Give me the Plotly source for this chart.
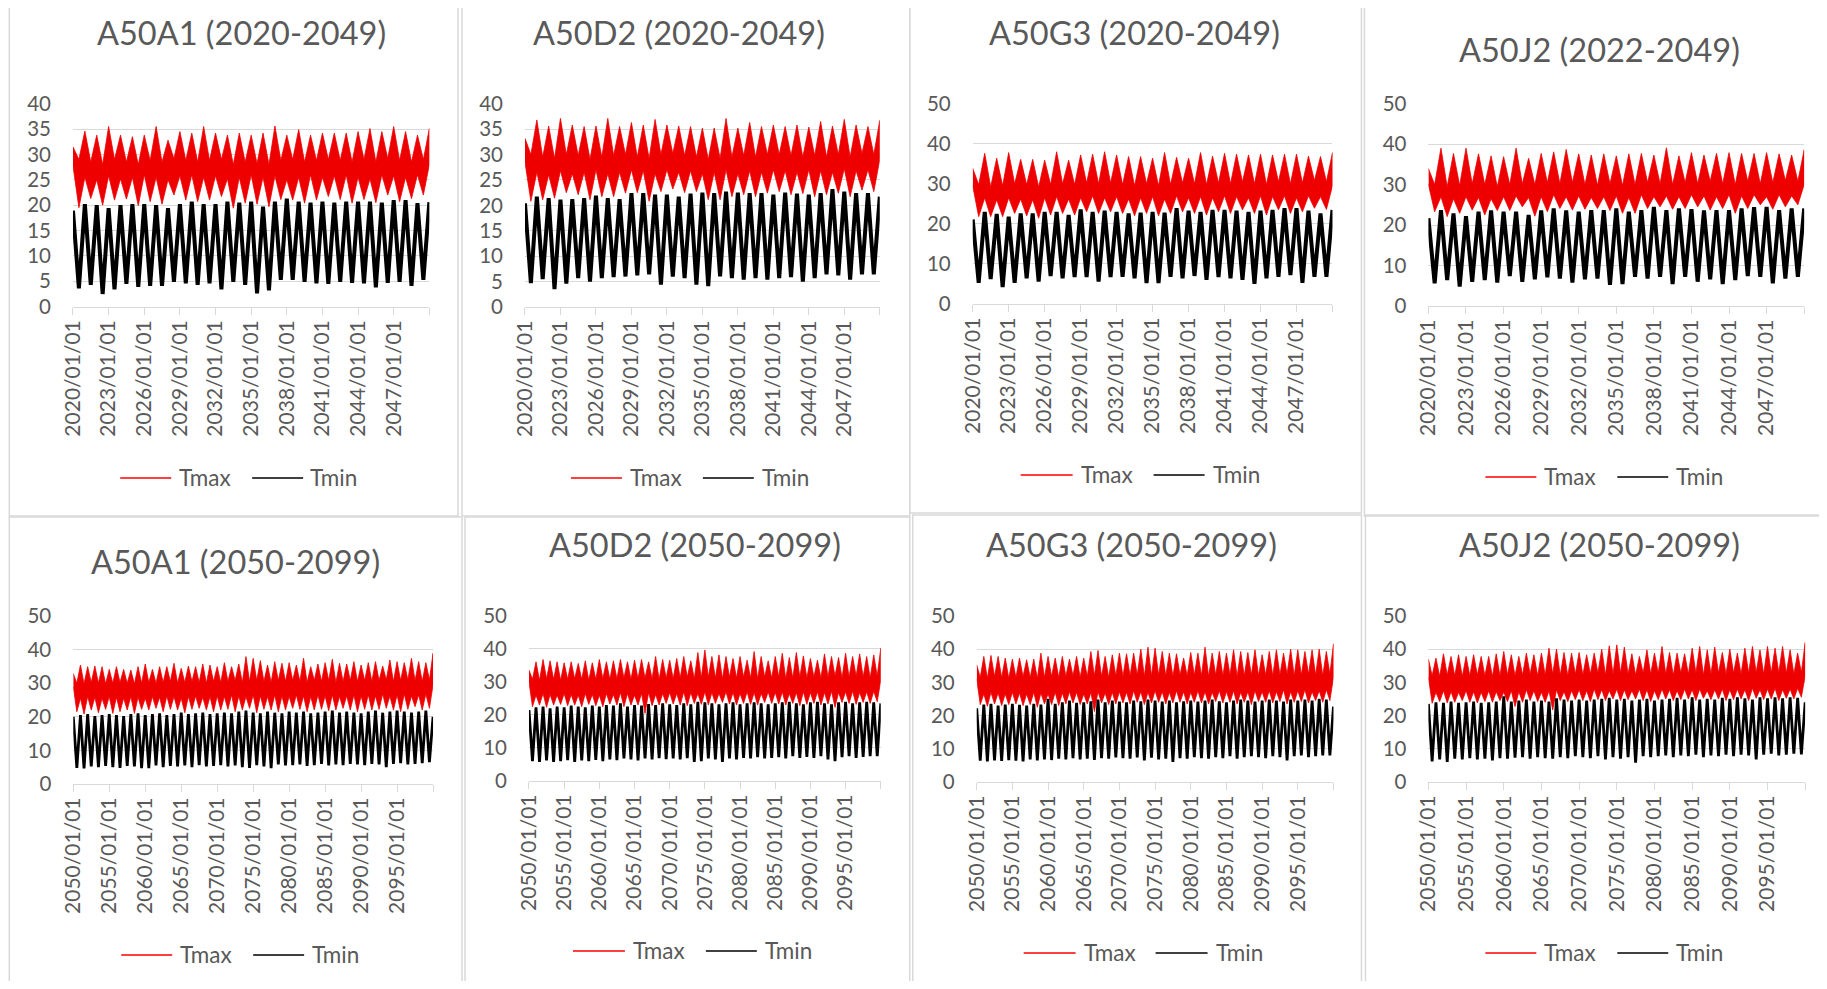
import plotly.graph_objects as go

PAGE_W, PAGE_H = 1827, 989
OFF = 8  # default body margin of the page
W, H = PAGE_W - 2 * OFF, PAGE_H - 2 * OFF
# measured mapping page -> photographed picture (picture = T + S * page)
SX, TX = 0.9929, 13.75
SY, TY = 0.9754, 13.2
FONT = "Lato"
TXT = "#595959"
GRID = "#D9D9D9"
RED = "#EE0000"

# ---------------- categories / ticks ----------------
top_years = list(range(2020, 2050))
bot_years = list(range(2050, 2100))
top_ticks = list(range(2020, 2048, 3))
bot_ticks = list(range(2050, 2100, 5))
titles = ["A50A1 (2020-2049)", "A50D2 (2020-2049)", "A50G3 (2020-2049)", "A50J2 (2022-2049)",
          "A50A1 (2050-2099)", "A50D2 (2050-2099)", "A50G3 (2050-2099)", "A50J2 (2050-2099)"]
series_names = ["Tmax", "Tmin"]

# ---------------- data ----------------
# *_hi : summer (January) top value, one per year + final value
# *_sb : summer (January) lower edge of the daily band
# *_wt : winter (July) upper edge of the daily band
# *_lo : winter (July) bottom value
p1_tmax_hi = [31.5, 34.6, 33.8, 35.5, 33.8, 33.5, 33.8, 35.5, 32.8, 34.5, 34.2, 35.5, 34.2, 33.8, 34.2, 33.8,
              34.2, 35.6, 33.8, 34.9, 33.8, 34.2, 34.2, 34.2, 34.5, 35.1, 34.5, 35.5, 34.5, 33.8, 35.1]
p1_tmax_sb = [27.8, 25.5, 25.0, 25.8, 25.2, 25.5, 26.0, 25.5, 25.0, 25.8, 26.0, 25.5, 25.8, 25.2, 25.5, 26.0,
              25.5, 25.8, 25.0, 25.5, 26.0, 25.5, 25.8, 26.0, 25.5, 25.2, 26.0, 25.8, 25.5, 26.0, 28.0]
p1_tmax_wt = [29.0, 28.5, 28.0, 29.0, 28.5, 28.0, 28.8, 28.5, 29.2, 28.8, 28.5, 28.8, 29.0, 28.0, 28.5, 28.2,
              28.0, 28.8, 29.0, 28.5, 28.8, 29.0, 28.8, 28.5, 29.0, 28.5, 29.2, 28.8, 28.5, 29.0]
p1_tmax_lo = [19.5, 21.3, 20.0, 21.0, 21.2, 19.9, 20.7, 20.2, 22.0, 21.0, 20.7, 21.0, 21.7, 19.4, 20.4, 20.2,
              19.7, 21.1, 21.0, 20.4, 21.0, 21.7, 21.1, 20.4, 21.1, 20.5, 22.0, 20.7, 21.3, 22.0]
p1_tmin_hi = [18.9, 20.2, 20.0, 19.4, 20.0, 20.2, 20.2, 20.0, 19.4, 20.2, 20.7, 20.2, 20.2, 20.7, 20.5, 20.7,
              19.7, 20.7, 21.3, 20.7, 20.5, 20.7, 20.5, 20.7, 20.7, 20.7, 20.5, 21.0, 21.0, 20.4, 20.6]
p1_tmin_lo = [3.6, 4.3, 2.5, 3.4, 4.5, 3.9, 4.1, 4.1, 4.9, 4.6, 4.3, 4.6, 3.4, 4.9, 4.3, 2.6, 3.2, 5.3, 5.3,
              4.9, 4.6, 4.5, 4.9, 4.7, 4.6, 3.8, 4.7, 4.9, 4.1, 5.3]

p2_tmax_hi = [33.2, 36.8, 35.6, 37.1, 35.8, 35.5, 35.6, 37.1, 35.5, 36.3, 35.8, 36.9, 35.8, 35.6, 35.5, 35.2,
              35.2, 37.1, 35.2, 36.3, 35.5, 35.8, 35.5, 35.8, 35.4, 36.5, 35.6, 36.9, 35.8, 35.5, 36.7]
p2_tmax_sb = [28.5, 26.5, 26.0, 26.8, 26.2, 26.5, 27.0, 26.2, 26.5, 27.0, 26.8, 26.2, 27.0, 26.5, 26.8, 26.2,
              26.5, 27.0, 26.2, 26.8, 26.5, 27.0, 26.8, 26.5, 27.0, 26.8, 26.5, 27.2, 26.8, 27.0, 29.0]
p2_tmax_wt = [30.0, 29.5, 29.2, 30.0, 29.8, 29.0, 29.5, 29.8, 30.0, 29.5, 29.2, 30.0, 30.2, 29.8, 29.5, 29.0,
              29.2, 29.5, 29.8, 29.5, 30.0, 30.0, 29.8, 29.5, 29.8, 29.5, 30.0, 29.5, 30.2, 30.0]
p2_tmax_lo = [20.8, 21.1, 21.4, 22.5, 22.1, 21.1, 21.7, 21.7, 22.4, 22.5, 20.8, 22.7, 23.2, 22.5, 22.7, 21.1,
              21.1, 21.7, 22.1, 21.7, 22.4, 22.7, 22.1, 22.3, 21.7, 22.1, 22.4, 21.7, 23.0, 22.7]
p2_tmin_hi = [20.4, 21.7, 21.4, 21.1, 21.2, 21.4, 21.9, 21.4, 21.2, 22.4, 22.4, 22.1, 22.1, 21.7, 22.3, 22.5,
              22.4, 22.7, 22.5, 22.4, 22.4, 22.1, 22.5, 22.3, 22.1, 22.4, 23.2, 22.7, 22.4, 22.4, 21.7]
p2_tmin_lo = [4.7, 5.5, 3.5, 4.6, 5.7, 5.0, 5.7, 5.9, 6.0, 6.2, 6.4, 4.4, 6.0, 5.7, 4.4, 4.1, 6.0, 5.7, 5.4,
              5.7, 5.4, 5.7, 5.9, 5.0, 5.7, 6.4, 6.2, 5.4, 6.4, 6.4]

p3_tmax_hi = [33.9, 37.6, 36.4, 37.8, 36.1, 36.1, 35.9, 38.0, 35.9, 37.2, 37.4, 38.0, 37.2, 36.8, 36.8, 36.4,
              37.8, 36.6, 36.4, 37.8, 36.9, 37.6, 37.4, 37.2, 37.4, 37.2, 37.4, 37.4, 36.9, 36.8, 37.8]
p3_tmax_sb = [29.5, 26.5, 26.0, 26.5, 26.2, 26.0, 26.5, 26.8, 26.2, 26.5, 27.0, 26.5, 26.8, 26.2, 26.5, 26.8,
              26.2, 27.0, 26.5, 26.8, 26.5, 27.0, 26.8, 26.5, 27.0, 26.8, 27.0, 26.5, 27.0, 26.8, 29.5]
p3_tmax_wt = [29.8, 29.2, 29.5, 30.0, 29.8, 29.2, 29.8, 30.0, 29.8, 30.2, 30.0, 30.2, 29.8, 29.5, 30.0, 29.5,
              29.8, 30.2, 30.0, 29.8, 30.2, 30.0, 30.5, 30.0, 29.8, 30.5, 30.0, 30.2, 30.8, 30.5]
p3_tmax_lo = [21.8, 21.8, 21.8, 22.6, 22.0, 21.4, 22.2, 22.6, 22.2, 23.0, 22.6, 23.0, 22.6, 22.0, 22.6, 22.0,
              22.6, 23.0, 22.6, 22.2, 23.0, 22.6, 23.5, 22.6, 22.2, 23.5, 22.6, 23.0, 23.9, 23.6]
p3_tmin_hi = [21.1, 23.0, 22.5, 21.8, 22.6, 22.6, 23.0, 23.0, 22.2, 23.6, 23.0, 23.3, 23.0, 22.6, 22.8, 23.0,
              22.8, 23.9, 23.3, 23.0, 23.5, 23.5, 23.3, 23.0, 23.3, 23.5, 23.9, 23.9, 23.3, 22.6, 23.5]
p3_tmin_lo = [5.3, 6.2, 4.2, 5.3, 6.4, 5.6, 7.0, 6.4, 6.7, 6.7, 5.6, 6.7, 6.8, 6.4, 5.2, 5.2, 6.8, 6.4, 7.0,
              6.0, 6.7, 6.4, 6.0, 5.0, 6.4, 6.8, 7.2, 5.3, 6.8, 6.8]

p4_tmax_hi = [34.0, 39.0, 37.7, 39.0, 37.6, 37.1, 36.9, 39.0, 36.5, 37.7, 38.1, 38.7, 37.6, 37.3, 37.6, 37.1,
              37.6, 37.7, 37.3, 39.1, 37.1, 37.9, 37.3, 37.7, 37.9, 37.7, 37.7, 37.9, 37.6, 37.3, 38.6]
p4_tmax_sb = [30.0, 27.0, 26.5, 27.0, 26.8, 26.5, 27.0, 27.2, 26.8, 27.0, 27.5, 27.0, 27.2, 26.8, 27.0, 27.2,
              26.8, 27.5, 27.0, 27.2, 27.0, 27.5, 27.2, 27.0, 27.5, 27.2, 27.5, 27.0, 27.5, 27.2, 30.0]
p4_tmax_wt = [30.0, 29.5, 29.8, 30.2, 30.0, 29.5, 30.0, 30.2, 30.0, 30.5, 30.2, 30.5, 30.0, 29.8, 30.2, 29.8,
              30.0, 30.5, 30.2, 30.0, 30.5, 30.2, 30.8, 30.2, 30.0, 30.8, 30.2, 30.5, 31.0, 30.8]
p4_tmax_lo = [23.3, 22.1, 22.9, 23.7, 22.5, 23.6, 23.6, 24.5, 22.2, 23.3, 24.1, 23.7, 23.9, 24.1, 23.6, 22.9,
              22.9, 24.1, 24.5, 23.9, 24.1, 24.5, 23.7, 24.1, 22.9, 24.1, 25.0, 23.9, 24.5, 25.0]
p4_tmin_hi = [21.7, 23.7, 22.9, 22.2, 23.3, 23.6, 23.3, 23.3, 22.5, 23.6, 24.1, 23.6, 23.3, 23.7, 23.7, 24.1,
              23.3, 23.7, 24.5, 23.7, 24.1, 23.9, 23.6, 23.7, 23.7, 24.1, 24.4, 24.5, 23.7, 24.1, 24.1]
p4_tmin_lo = [5.6, 6.4, 4.8, 6.0, 6.4, 5.8, 7.4, 6.0, 6.6, 7.1, 6.8, 5.8, 6.6, 6.8, 5.2, 5.4, 7.2, 6.8, 7.2,
              5.4, 7.2, 6.0, 6.6, 5.4, 6.4, 7.4, 7.2, 5.6, 6.8, 7.2]

p5_tmax_hi = [32.9,
              35.4, 34.9, 35.1, 34.9, 34.1, 34.9, 34.1, 33.9, 34.9, 35.7,
              34.1, 34.9, 34.9, 35.9, 34.4, 35.1, 34.9, 35.7, 35.4, 34.9,
              36.1, 34.9, 35.7, 37.9, 37.4, 36.7, 35.4, 36.4, 35.9, 36.1,
              35.4, 37.4, 34.9, 35.7, 36.1, 37.1, 35.9, 35.7, 36.4, 35.4,
              36.1, 36.4, 35.1, 36.9, 36.4, 36.1, 37.4, 36.4, 36.1, 38.9]
p5_tmax_sb = [29.0,
              25.5, 26.0, 25.8, 25.5, 26.0, 25.8, 25.5, 26.0, 25.8, 25.5,
              26.0, 25.8, 26.2, 26.0, 25.5, 26.0, 26.2, 25.8, 26.0, 26.2,
              26.0, 26.5, 26.2, 26.0, 26.5, 26.2, 26.0, 26.5, 26.2, 26.0,
              26.5, 26.2, 26.0, 26.5, 26.2, 26.5, 26.0, 26.2, 26.5, 26.2,
              26.5, 26.2, 26.8, 26.2, 26.5, 26.8, 26.2, 26.5, 26.8, 29.5]
p5_tmax_wt = [30.0, 29.8, 30.2, 30.0, 29.8, 30.0, 30.2, 30.0, 29.8, 30.0,
              30.2, 30.0, 30.2, 30.5, 30.0, 30.2, 30.5, 30.2, 30.0, 30.5,
              30.2, 30.5, 30.8, 30.2, 30.5, 30.8, 30.5, 30.2, 30.8, 30.5,
              30.8, 30.5, 30.2, 30.8, 30.5, 30.8, 30.2, 30.5, 30.8, 30.5,
              30.8, 30.5, 30.8, 31.0, 30.5, 30.8, 31.0, 30.8, 30.5, 31.0]
p5_tmax_lo = [21.5, 20.8, 22.0, 21.2, 22.2, 21.0, 21.5, 22.0, 21.0, 22.2,
              22.0, 22.5, 21.5, 22.2, 22.0, 21.2, 22.2, 22.5, 22.0, 21.5,
              22.0, 22.2, 21.5, 22.0, 22.5, 21.2, 22.2, 22.0, 21.5, 22.0,
              22.5, 22.2, 21.5, 22.0, 22.2, 21.8, 22.0, 22.5, 22.0, 21.5,
              22.2, 22.0, 22.2, 22.5, 22.0, 21.5, 22.2, 23.0, 22.0, 22.5]
p5_tmin_hi = [20.0,
              20.5, 20.8, 20.2, 20.5, 20.8, 20.5, 20.2, 20.8, 21.0, 20.5,
              20.8, 21.0, 20.5, 20.8, 21.2, 20.8, 21.0, 21.2, 20.8, 21.0,
              21.2, 21.0, 21.5, 21.8, 21.2, 21.0, 21.5, 21.2, 21.0, 21.5,
              21.2, 21.5, 21.0, 21.2, 21.5, 21.8, 21.2, 21.5, 21.2, 21.0,
              21.5, 21.8, 21.2, 21.5, 21.8, 21.5, 21.2, 21.5, 21.8, 20.0]
p5_tmin_lo = [4.8, 4.6, 5.2, 5.0, 5.4, 5.0, 4.8, 5.4, 5.2, 4.7,
              4.7, 5.5, 5.0, 5.4, 5.2, 5.5, 5.0, 5.6, 5.2, 5.4,
              5.6, 5.2, 5.5, 5.0, 4.8, 5.6, 5.2, 4.7, 5.8, 5.5,
              5.6, 5.8, 5.4, 5.6, 6.0, 5.5, 5.8, 5.6, 6.0, 5.8,
              5.6, 6.0, 5.8, 5.0, 6.0, 6.2, 5.8, 6.0, 6.2, 6.5]

p6_tmax_hi = [33.6,
              36.1, 36.8, 36.4, 36.1, 35.8, 36.1, 35.6, 36.4, 35.8, 36.8,
              36.1, 36.4, 36.8, 36.1, 36.6, 36.8, 36.1, 37.7, 36.8, 36.6,
              37.1, 37.7, 36.4, 38.9, 39.7, 37.7, 38.2, 37.7, 37.1, 37.7,
              36.6, 39.2, 37.7, 36.4, 37.7, 38.7, 37.4, 38.9, 37.9, 37.1,
              36.6, 38.5, 37.7, 37.4, 38.7, 37.7, 38.5, 37.7, 38.2, 40.2]
p6_tmax_sb = [30.0,
              26.0, 26.5, 26.2, 26.0, 26.5, 26.2, 26.0, 26.5, 26.2, 26.0,
              26.5, 26.2, 26.8, 26.5, 26.0, 26.5, 26.8, 26.2, 26.5, 26.8,
              26.5, 27.0, 26.8, 26.5, 27.0, 26.8, 26.5, 27.0, 26.8, 26.5,
              27.0, 26.8, 26.5, 27.0, 26.8, 27.0, 26.5, 26.8, 27.0, 26.8,
              27.0, 26.8, 27.2, 26.8, 27.0, 27.2, 26.8, 27.0, 27.2, 30.5]
p6_tmax_wt = [30.8, 30.5, 31.0, 30.8, 30.5, 30.8, 31.0, 30.8, 30.5, 30.8,
              31.0, 30.8, 31.0, 31.2, 30.8, 31.0, 31.2, 31.0, 30.8, 31.2,
              31.0, 31.2, 31.5, 31.0, 31.2, 31.5, 31.2, 31.0, 31.5, 31.2,
              31.5, 31.2, 31.0, 31.5, 31.2, 31.5, 31.0, 31.2, 31.5, 31.2,
              31.5, 31.2, 31.5, 31.8, 31.2, 31.5, 31.8, 31.5, 31.2, 31.8]
p6_tmax_lo = [22.5, 23.0, 22.3, 23.0, 23.2, 22.8, 23.0, 22.5, 23.2, 22.8,
              22.5, 23.3, 23.0, 22.5, 23.0, 23.0, 20.5, 22.8, 23.0, 23.5,
              23.3, 23.0, 22.8, 23.5, 23.2, 23.0, 23.5, 23.8, 23.3, 23.0,
              23.5, 23.2, 23.0, 23.8, 23.5, 23.3, 23.0, 23.5, 22.8, 23.2,
              23.5, 23.0, 23.3, 22.3, 23.8, 23.5, 23.2, 23.8, 23.5, 24.0]
p6_tmin_hi = [21.5,
              22.3, 22.5, 22.0, 22.5, 22.3, 22.8, 22.5, 22.3, 22.8, 22.5,
              23.0, 22.8, 23.5, 22.5, 23.0, 22.8, 23.3, 23.0, 23.5, 23.2,
              23.0, 23.5, 23.2, 24.0, 23.8, 23.5, 23.2, 23.5, 23.8, 23.2,
              23.5, 23.8, 23.5, 23.2, 23.5, 23.8, 24.0, 23.5, 23.2, 23.8,
              24.0, 23.5, 23.2, 23.8, 24.0, 23.5, 23.8, 24.0, 23.8, 23.5]
p6_tmin_lo = [6.0, 5.8, 6.2, 5.8, 6.0, 6.3, 5.8, 6.2, 6.0, 6.4,
              6.0, 6.5, 6.3, 6.8, 6.5, 6.2, 6.8, 6.5, 6.9, 6.6,
              6.8, 6.5, 6.9, 5.8, 6.0, 6.8, 6.5, 5.8, 6.8, 6.5,
              7.0, 6.8, 7.2, 6.8, 7.0, 7.2, 6.8, 7.5, 7.0, 7.3,
              7.0, 7.5, 6.5, 6.0, 7.2, 7.5, 7.0, 7.3, 7.5, 7.5]

p7_tmax_hi = [35.3,
              37.8, 38.1, 37.8, 37.3, 37.0, 37.3, 36.8, 37.0, 38.8, 37.8,
              37.3, 37.8, 37.0, 37.8, 37.3, 39.3, 39.6, 37.8, 38.3, 38.8,
              38.6, 38.8, 40.0, 40.6, 40.3, 39.3, 38.8, 38.6, 37.3, 39.0,
              38.8, 40.6, 38.8, 39.3, 38.8, 39.8, 39.3, 39.0, 39.8, 38.3,
              39.3, 39.8, 38.8, 40.0, 39.8, 39.3, 39.8, 40.0, 39.3, 41.6]
p7_tmax_sb = [31.0,
              26.5, 27.0, 26.8, 26.5, 27.0, 26.8, 26.5, 27.0, 26.8, 26.5,
              27.0, 26.8, 27.2, 27.0, 26.5, 27.0, 27.2, 26.8, 27.0, 27.2,
              27.0, 27.5, 27.2, 27.0, 27.5, 27.2, 27.0, 27.5, 27.2, 27.0,
              27.5, 27.2, 27.0, 27.5, 27.2, 27.5, 27.0, 27.2, 27.5, 27.2,
              27.5, 27.2, 27.8, 27.2, 27.5, 27.8, 27.2, 27.5, 27.8, 31.5]
p7_tmax_wt = [31.5, 31.2, 31.8, 31.5, 31.2, 31.5, 31.8, 31.5, 31.2, 31.5,
              31.8, 31.5, 31.8, 32.0, 31.5, 31.8, 32.0, 31.8, 31.5, 32.0,
              31.8, 32.0, 32.2, 31.8, 32.0, 32.2, 32.0, 31.8, 32.2, 32.0,
              32.2, 32.0, 31.8, 32.2, 32.0, 32.2, 31.8, 32.0, 32.2, 32.0,
              32.2, 32.0, 32.2, 32.5, 32.0, 32.2, 32.5, 32.2, 32.0, 32.5]
p7_tmax_lo = [23.3, 22.8, 23.5, 23.0, 23.3, 23.5, 23.0, 23.3, 22.5, 23.5,
              23.3, 23.0, 23.5, 23.8, 23.3, 23.5, 21.2, 23.8, 23.3, 23.5,
              23.8, 23.5, 24.0, 23.3, 23.8, 24.0, 23.5, 23.8, 24.0, 23.5,
              24.0, 23.8, 23.5, 24.2, 23.8, 24.0, 23.5, 24.0, 23.3, 24.2,
              24.0, 23.8, 24.2, 23.5, 24.0, 24.2, 23.8, 24.5, 24.0, 24.5]
p7_tmin_hi = [22.2,
              23.3, 23.5, 23.0, 23.3, 23.5, 23.2, 23.0, 23.5, 23.3, 25.0,
              23.5, 24.0, 24.5, 23.8, 24.0, 24.3, 24.8, 24.0, 24.5, 24.2,
              24.0, 24.5, 24.3, 24.8, 24.5, 24.2, 24.5, 24.0, 24.3, 24.5,
              24.2, 24.5, 24.8, 24.3, 24.0, 24.5, 24.8, 24.5, 24.2, 24.5,
              24.8, 24.5, 24.2, 24.8, 24.5, 24.8, 24.5, 25.0, 24.8, 22.7]
p7_tmin_lo = [6.4, 6.2, 6.5, 6.3, 6.6, 6.4, 6.2, 6.8, 6.5, 6.8,
              6.6, 7.0, 6.8, 7.2, 6.8, 7.0, 6.6, 7.2, 7.0, 7.4,
              7.2, 7.0, 7.4, 6.5, 7.3, 6.8, 7.0, 6.0, 7.2, 7.0,
              7.5, 7.2, 7.0, 7.5, 7.2, 7.8, 7.0, 7.5, 7.8, 7.5,
              7.2, 7.8, 7.5, 6.5, 7.8, 8.0, 7.5, 7.8, 8.0, 8.0]

p8_tmax_hi = [37.0,
              37.3, 38.6, 37.8, 38.3, 37.8, 38.3, 37.8, 37.8, 38.6, 39.3,
              38.3, 37.8, 38.8, 38.3, 38.8, 40.3, 40.0, 39.0, 38.8, 39.0,
              38.3, 38.8, 40.0, 41.0, 41.3, 40.6, 38.6, 37.8, 39.8, 38.8,
              40.8, 39.0, 38.8, 38.6, 40.3, 40.8, 39.8, 40.6, 39.0, 40.0,
              38.8, 40.3, 40.8, 39.8, 40.8, 40.3, 40.8, 39.8, 38.8, 42.0]
p8_tmax_sb = [31.5,
              27.0, 27.5, 27.2, 27.0, 27.5, 27.2, 27.0, 27.5, 27.2, 27.0,
              27.5, 27.2, 27.8, 27.5, 27.0, 27.5, 27.8, 27.2, 27.5, 27.8,
              27.5, 28.0, 27.8, 27.5, 28.0, 27.8, 27.5, 28.0, 27.8, 27.5,
              28.0, 27.8, 27.5, 28.0, 27.8, 28.0, 27.5, 27.8, 28.0, 27.8,
              28.0, 27.8, 28.2, 27.8, 28.0, 28.2, 27.8, 28.0, 28.2, 32.0]
p8_tmax_wt = [32.0, 31.8, 32.2, 32.0, 31.8, 32.0, 32.2, 32.0, 31.8, 32.0,
              32.2, 32.0, 32.2, 32.5, 32.0, 32.2, 32.5, 32.2, 32.0, 32.5,
              32.2, 32.5, 32.8, 32.2, 32.5, 32.8, 32.5, 32.2, 32.8, 32.5,
              32.8, 32.5, 32.2, 32.8, 32.5, 32.8, 32.2, 32.5, 32.8, 32.5,
              32.8, 32.5, 32.8, 33.0, 32.5, 32.8, 33.0, 32.8, 32.5, 33.0]
p8_tmax_lo = [23.7, 24.2, 23.8, 24.0, 24.5, 24.0, 23.8, 24.2, 24.0, 24.5,
              24.2, 22.7, 24.0, 24.5, 24.2, 24.0, 21.7, 24.5, 24.2, 24.8,
              24.5, 24.2, 24.8, 24.5, 25.0, 24.5, 24.8, 25.0, 24.5, 24.2,
              24.8, 25.0, 24.5, 24.8, 25.0, 24.5, 25.2, 24.8, 25.0, 24.5,
              24.8, 25.0, 24.5, 25.2, 24.8, 25.0, 24.5, 25.2, 25.0, 25.5]
p8_tmin_hi = [23.5,
              24.0, 23.8, 24.2, 23.8, 24.0, 24.2, 23.8, 24.0, 24.2, 25.8,
              24.2, 24.5, 24.8, 24.2, 24.5, 24.2, 25.2, 24.8, 24.5, 24.8,
              24.5, 24.8, 25.0, 25.3, 24.8, 25.0, 24.5, 24.8, 25.0, 24.5,
              24.8, 25.0, 25.3, 24.8, 25.5, 24.8, 25.0, 24.8, 25.3, 25.0,
              25.5, 25.2, 24.8, 25.5, 25.2, 25.5, 25.2, 25.5, 25.3, 24.0]
p8_tmin_lo = [6.2, 6.8, 6.0, 7.0, 6.8, 7.2, 6.8, 7.0, 6.5, 7.2,
              7.0, 7.3, 7.5, 7.0, 7.5, 7.2, 7.0, 7.5, 7.2, 7.8,
              7.5, 7.2, 7.8, 6.8, 7.5, 7.0, 7.5, 5.8, 7.8, 7.5,
              7.8, 8.0, 7.5, 8.0, 7.8, 8.2, 7.5, 8.0, 7.8, 8.2,
              7.8, 8.2, 8.0, 6.8, 8.2, 8.5, 8.0, 8.2, 8.5, 8.3]

data = [
    (top_years, top_ticks, p1_tmax_hi, p1_tmax_sb, p1_tmax_wt, p1_tmax_lo, p1_tmin_hi, p1_tmin_lo),
    (top_years, top_ticks, p2_tmax_hi, p2_tmax_sb, p2_tmax_wt, p2_tmax_lo, p2_tmin_hi, p2_tmin_lo),
    (top_years, top_ticks, p3_tmax_hi, p3_tmax_sb, p3_tmax_wt, p3_tmax_lo, p3_tmin_hi, p3_tmin_lo),
    (top_years, top_ticks, p4_tmax_hi, p4_tmax_sb, p4_tmax_wt, p4_tmax_lo, p4_tmin_hi, p4_tmin_lo),
    (bot_years, bot_ticks, p5_tmax_hi, p5_tmax_sb, p5_tmax_wt, p5_tmax_lo, p5_tmin_hi, p5_tmin_lo),
    (bot_years, bot_ticks, p6_tmax_hi, p6_tmax_sb, p6_tmax_wt, p6_tmax_lo, p6_tmin_hi, p6_tmin_lo),
    (bot_years, bot_ticks, p7_tmax_hi, p7_tmax_sb, p7_tmax_wt, p7_tmax_lo, p7_tmin_hi, p7_tmin_lo),
    (bot_years, bot_ticks, p8_tmax_hi, p8_tmax_sb, p8_tmax_wt, p8_tmax_lo, p8_tmin_hi, p8_tmin_lo),
]

# ---------------- layout geometry (target picture pixels) ----------------
geo = [
    dict(px=(72.7, 429.3), py=(103.7, 306.7), ymax=40, ystep=5, tt=(241, 33), ly=478,
         lg=(120, 171, 177, 252, 303, 308), box=(9, 5, 458, 516)),
    dict(px=(525, 880), py=(103.7, 307), ymax=40, ystep=5, tt=(679, 33), ly=478,
         lg=(571, 622, 628, 703, 754, 760), box=(462, 5, 910, 516)),
    dict(px=(973, 1333), py=(103.7, 304), ymax=50, ystep=10, tt=(1135, 33), ly=475,
         lg=(1021, 1073, 1079, 1154, 1205, 1211), box=(910, 5, 1362, 513)),
    dict(px=(1429, 1805), py=(103.7, 306), ymax=50, ystep=10, tt=(1600, 50), ly=477,
         lg=(1486, 1537, 1543, 1618, 1669, 1675), box=(1365, 5, 1840, 516)),
    dict(px=(73, 433), py=(616, 784), ymax=50, ystep=10, tt=(235, 562), ly=955,
         lg=(121, 172, 178, 253, 304, 310), box=(9, 517, 462, 1000)),
    dict(px=(529, 881), py=(616, 781), ymax=50, ystep=10, tt=(695, 545), ly=951,
         lg=(573, 625, 631, 706, 757, 763), box=(465, 517, 910, 1000)),
    dict(px=(977, 1334), py=(616, 782), ymax=50, ystep=10, tt=(1132, 545), ly=953,
         lg=(1024, 1076, 1082, 1156, 1208, 1214), box=(913, 515, 1362, 1000)),
    dict(px=(1429, 1806), py=(616, 782), ymax=50, ystep=10, tt=(1600, 545), ly=953,
         lg=(1486, 1537, 1543, 1618, 1669, 1675), box=(1366, 515, 1840, 1000)),
]


def fx(x):
    page = (x - TX) / SX
    return (page - OFF) / W


def fy(y):
    page = (y - TY) / SY
    return 1 - (page - OFF) / H


def zig(summer, winter):
    out = []
    for s, w in zip(summer, winter):
        out += [s, w]
    out.append(summer[-1])
    return out


def dates(years):
    xs = []
    for y in years:
        xs += [f"{y}-01-01", f"{y}-07-01"]
    xs.append(f"{years[-1] + 1}-01-01")
    return xs


fig = go.Figure()
shapes, annos = [], []
layout_axes = {}

for i, (d, g) in enumerate(zip(data, geo)):
    years, ticks, tx_hi, tx_sb, tx_wt, tx_lo, tn_hi, tn_lo = d
    n = len(years)
    for arr in (tx_hi, tx_sb, tn_hi):
        assert len(arr) == n + 1, (i, len(arr))
    for arr in (tx_wt, tx_lo, tn_lo):
        assert len(arr) == n, (i, len(arr))
    k = "" if i == 0 else str(i + 1)
    xs = dates(years)
    upper = zig(tx_hi, tx_wt)
    lower = zig(tx_sb, tx_lo)
    fig.add_trace(go.Scatter(x=xs + xs[::-1], y=upper + lower[::-1], mode="lines", fill="toself",
                             fillcolor=RED, line=dict(color=RED, width=0.8), name=series_names[0],
                             xaxis="x" + k, yaxis="y" + k, hoverinfo="skip"))
    fig.add_trace(go.Scatter(x=xs, y=zig(tn_hi, tn_lo), mode="lines",
                             line=dict(color="#000000", width=4.0 if n < 40 else 2.8),
                             name=series_names[1], xaxis="x" + k, yaxis="y" + k, hoverinfo="skip"))

    end = f"{years[-1] + 1}-01-01"
    layout_axes["xaxis" + k] = dict(
        domain=[fx(g["px"][0]), fx(g["px"][1])], anchor="y" + k, type="date",
        range=[f"{years[0]}-01-01", end],
        tickmode="array", tickvals=[f"{t}-01-01" for t in ticks] + [end],
        ticktext=[f"{t}/01/01" for t in ticks] + [""],
        tickangle=-90, ticks="outside", ticklen=7, tickwidth=1.3, tickcolor=GRID,
        showline=True, linecolor=GRID, linewidth=1.3, showgrid=False, zeroline=False,
        tickfont=dict(family=FONT, size=21, color=TXT), ticklabelstandoff=-3, fixedrange=True)
    layout_axes["yaxis" + k] = dict(
        domain=[fy(g["py"][1]), fy(g["py"][0])], anchor="x" + k,
        range=[0, g["ymax"]], tickmode="array",
        tickvals=list(range(0, g["ymax"] + 1, g["ystep"])),
        showgrid=True, gridcolor=GRID, gridwidth=1.3, zeroline=False, showline=False, ticks="",
        tickfont=dict(family=FONT, size=20.5, color=TXT), ticklabelstandoff=21, fixedrange=True)

    # panel border
    bx0, by0, bx1, by1 = g["box"]
    shapes.append(dict(type="rect", xref="paper", yref="paper", x0=fx(bx0), x1=fx(bx1),
                       y0=fy(by1), y1=fy(by0), line=dict(color=GRID, width=1.5), layer="below"))
    # title
    annos.append(dict(text=titles[i], x=fx(g["tt"][0]), y=fy(g["tt"][1]), xref="paper", yref="paper",
                      xanchor="center", yanchor="middle", showarrow=False,
                      font=dict(family=FONT, size=32.5, color=TXT)))
    # legend
    a0, a1, at, b0, b1, bt = g["lg"]
    ly = fy(g["ly"])
    shapes.append(dict(type="line", xref="paper", yref="paper", x0=fx(a0), x1=fx(a1), y0=ly, y1=ly,
                       line=dict(color="#FF0000", width=1.6)))
    shapes.append(dict(type="line", xref="paper", yref="paper", x0=fx(b0), x1=fx(b1), y0=ly, y1=ly,
                       line=dict(color="#000000", width=1.6)))
    for txt, xx in ((series_names[0], at), (series_names[1], bt)):
        annos.append(dict(text=txt, x=fx(xx), y=ly, xref="paper", yref="paper", xanchor="left",
                          yanchor="middle", showarrow=False, font=dict(family=FONT, size=22.5, color=TXT)))

fig.update_layout(width=W, height=H, margin=dict(l=0, r=0, t=0, b=0), paper_bgcolor="white",
                  plot_bgcolor="white", showlegend=False, shapes=shapes, annotations=annos,
                  font=dict(family=FONT, color=TXT), **layout_axes)

fig.write_html("out.html", config={"displayModeBar": False})
